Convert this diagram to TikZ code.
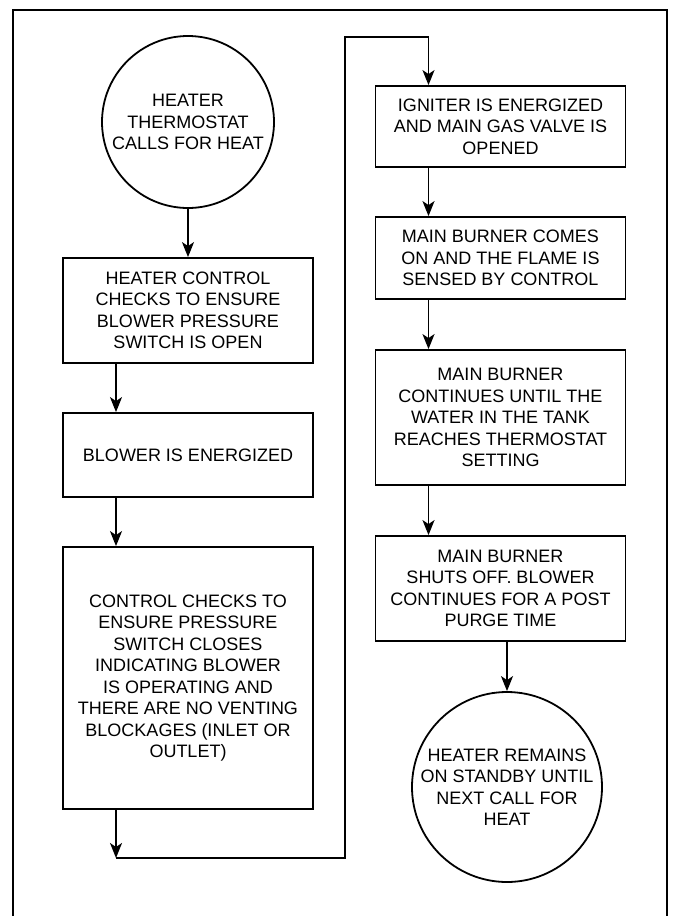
\documentclass[tikz,border=0pt]{standalone}
\usepackage{fontspec}
\setmainfont{Liberation Sans}
\usetikzlibrary{arrows.meta}

\tikzset{
    stepbox/.style={draw, line width=1.8pt, minimum width=250pt, align=center,
        inner sep=2pt, font=\fontsize{18}{21.5}\selectfont},
    endcircle/.style={draw, circle, line width=1.8pt, align=center,
        inner sep=0pt, font=\fontsize{18}{21.5}\selectfont},
    arr/.style={line width=1.8pt, -{Stealth[length=15pt, width=12pt, inset=4pt]}}
}

\begin{document}
\begin{tikzpicture}[x=1pt, y=-1pt]
    \useasboundingbox (0,0) rectangle (678,916);
    % frame
    \draw[line width=1.8pt] (13,916) -- (13,10) -- (667,10) -- (667,916);

    % left column
    \node[endcircle, minimum size=172pt] (start) at (188,122)
        {HEATER\\THERMOSTAT\\CALLS FOR HEAT};
    \node[stepbox, minimum height=105pt] (check) at (188,310.5)
        {HEATER CONTROL\\CHECKS TO ENSURE\\BLOWER PRESSURE\\SWITCH IS OPEN};
    \node[stepbox, minimum height=84pt] (blower) at (188,455)
        {BLOWER IS ENERGIZED};
    \node[stepbox, minimum height=262pt] (closes) at (188,678)
        {CONTROL CHECKS TO\\ENSURE PRESSURE\\SWITCH CLOSES\\INDICATING BLOWER\\IS OPERATING AND\\THERE ARE NO VENTING\\BLOCKAGES (INLET OR\\OUTLET)};

    % right column
    \node[stepbox, minimum height=81pt] (igniter) at (500.5,126.5)
        {IGNITER IS ENERGIZED\\AND MAIN GAS VALVE IS\\OPENED};
    \node[stepbox, minimum height=82pt] (flame) at (500.5,258)
        {MAIN BURNER COMES\\ON AND THE FLAME IS\\SENSED BY CONTROL};
    \node[stepbox, minimum height=135pt] (burner) at (500.5,417.5)
        {MAIN BURNER\\CONTINUES UNTIL THE\\WATER IN THE TANK\\REACHES THERMOSTAT\\SETTING};
    \node[stepbox, minimum height=105pt] (purge) at (500.5,588.5)
        {MAIN BURNER\\SHUTS OFF. BLOWER\\CONTINUES FOR A POST\\PURGE TIME};
    \node[endcircle, minimum size=190pt] (standby) at (507,787)
        {HEATER REMAINS\\ON STANDBY UNTIL\\NEXT CALL FOR\\HEAT};

    \coordinate (low) at (116,858);
    \coordinate (high) at (345,37);

    % connectors
    \draw[arr] (start) -- (check);
    \draw[arr] ([xshift=-72pt]check.south) -- ([xshift=-72pt]blower.north);
    \draw[arr] ([xshift=-72pt]blower.south) -- ([xshift=-72pt]closes.north);
    \draw[arr] ([xshift=-72pt]closes.south) -- (low);
    \draw[arr] (low) -| (high) -| ([xshift=-72pt]igniter.north);
    \draw[arr] ([xshift=-72pt]igniter.south) -- ([xshift=-72pt]flame.north);
    \draw[arr] ([xshift=-72pt]flame.south) -- ([xshift=-72pt]burner.north);
    \draw[arr] ([xshift=-72pt]burner.south) -- ([xshift=-72pt]purge.north);
    \draw[arr] (purge.south -| standby.north) -- (standby.north);
\end{tikzpicture}
\end{document}
